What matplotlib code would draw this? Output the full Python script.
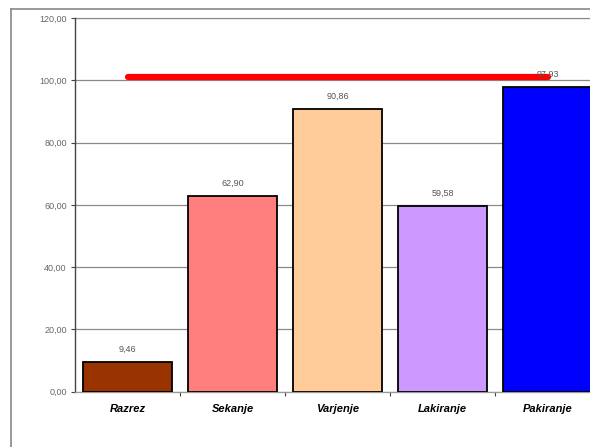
import matplotlib
matplotlib.use("Agg")
import matplotlib.pyplot as plt
from matplotlib.lines import Line2D
from matplotlib.ticker import FixedLocator, FuncFormatter

plt.rcParams['font.family'] = ['Liberation Sans', 'DejaVu Sans']

categories = ["Razrez", "Sekanje", "Varjenje", "Lakiranje", "Pakiranje"]
values = [9.46, 62.90, 90.86, 59.58, 97.93]
bar_colors = ["#993300", "#FF7F7F", "#FFCC99", "#CC99FF", "#0000FF"]
target = [101.0] * len(categories)
y_ticks = [0, 20, 40, 60, 80, 100, 120]

fig = plt.figure(figsize=(5.9, 4.47), dpi=100)
ax = fig.add_axes([75 / 590, (447 - 391.7) / 447, 525 / 590, (391.7 - 18) / 447])

x = list(range(len(categories)))
ax.bar(x, values, width=0.84, color=bar_colors, edgecolor="black", linewidth=1.3, zorder=3)
ax.plot(x, target, color="#FF0000", linewidth=4.5, solid_capstyle="round", zorder=4)

for xi, v in zip(x, values):
    ax.text(xi, v + 2.6, f"{v:.2f}".replace(".", ","), ha="center", va="bottom",
            fontsize=6.5, color="#555555", zorder=5)

ax.set_xlim(-0.5, len(categories) - 0.5)
ax.set_ylim(0, 120)
ax.yaxis.set_major_locator(FixedLocator(y_ticks))
ax.yaxis.set_major_formatter(FuncFormatter(lambda v, p: f"{v:.2f}".replace(".", ",")))
ax.tick_params(axis="y", labelsize=6.5, labelcolor="#666666", length=3, width=0.8,
               color="#444444", direction="out", pad=3)
ax.yaxis.grid(True, color="#8a8a8a", linewidth=0.9, zorder=0)

# category labels centred, tick marks between categories
ax.set_xticks(x)
ax.set_xticklabels(categories, fontsize=8, fontweight="bold", fontstyle="italic")
ax.tick_params(axis="x", length=0, pad=9)
ax.set_xticks([i + 0.5 for i in x[:-1]], minor=True)
ax.tick_params(axis="x", which="minor", length=3, width=0.8, color="#444444", direction="out")

for side in ["top", "right"]:
    ax.spines[side].set_visible(False)
ax.spines["left"].set_color("#444444")
ax.spines["left"].set_linewidth(1.0)
ax.spines["bottom"].set_color("#999999")
ax.spines["bottom"].set_linewidth(0.9)
ax.axhline(120, color="#cccccc", linewidth=1.0, zorder=1, clip_on=False)

# outer chart frame
fig.add_artist(Line2D([11 / 590, 11 / 590], [0, 1 - 9 / 447], transform=fig.transFigure,
                      color="#888888", linewidth=1.2))
fig.add_artist(Line2D([11 / 590, 1], [1 - 9 / 447, 1 - 9 / 447], transform=fig.transFigure,
                      color="#888888", linewidth=1.2))

fig.savefig("out.png", dpi=100)
